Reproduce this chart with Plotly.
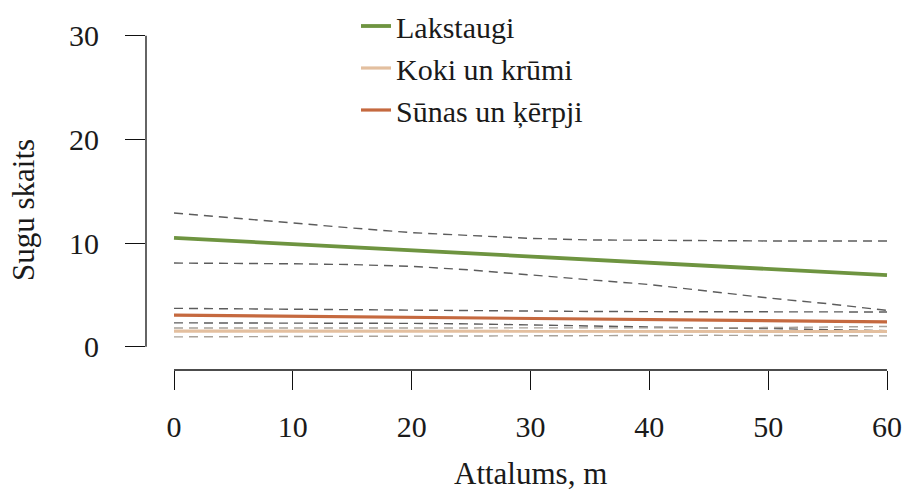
import plotly.graph_objects as go

# ---- data ----
distance = [0, 5, 10, 15, 20, 25, 30, 35, 40, 45, 50, 55, 60]

lak_mean  = [10.5, 10.2, 9.9, 9.6, 9.3, 9.0, 8.7, 8.4, 8.1, 7.8, 7.5, 7.2, 6.9]
lak_upper = [12.9, 12.4, 11.9, 11.45, 11.0, 10.7, 10.45, 10.3, 10.25, 10.2, 10.2, 10.2, 10.2]
lak_lower = [8.07, 8.05, 8.0, 7.92, 7.75, 7.4, 6.9, 6.45, 6.0, 5.35, 4.7, 4.15, 3.5]

koki_mean  = [1.5, 1.5, 1.48, 1.47, 1.46, 1.45, 1.45, 1.45, 1.45, 1.45, 1.46, 1.47, 1.48]
koki_upper = [1.8, 1.8, 1.78, 1.77, 1.77, 1.77, 1.77, 1.78, 1.8, 1.82, 1.85, 1.9, 1.95]
koki_lower = [0.95, 0.97, 1.0, 1.02, 1.04, 1.06, 1.08, 1.09, 1.1, 1.1, 1.08, 1.06, 1.04]

sun_mean  = [3.05, 3.0, 2.95, 2.9, 2.85, 2.8, 2.75, 2.7, 2.62, 2.55, 2.5, 2.45, 2.4]
sun_upper = [3.7, 3.65, 3.6, 3.55, 3.5, 3.45, 3.4, 3.4, 3.38, 3.37, 3.36, 3.35, 3.35]
sun_lower = [2.3, 2.3, 2.3, 2.3, 2.25, 2.2, 2.1, 1.95, 1.85, 1.8, 1.75, 1.65, 1.55]

series_names = ["Lakstaugi", "Koki un krūmi", "Sūnas un ķērpji"]

x_ticks = [0, 10, 20, 30, 40, 50, 60]
y_ticks = [0, 10, 20, 30]

x_title = "Attalums, m"
y_title = "Sugu skaits"

# ---- styles ----
FONT = "Liberation Serif"
TXT = "#1a1a1a"
c_lak, c_koki, c_sun = "#6e9440", "#e3bf9f", "#c5693f"
dash_dark, dash_light = "#5c5c5c", "#a8a29a"
DASH = "9px,6px"

fig = go.Figure()

def band(y, col):
    fig.add_trace(go.Scatter(x=distance, y=y, mode="lines",
                             line=dict(color=col, width=1.4, dash=DASH),
                             showlegend=False, hoverinfo="skip"))

band(lak_upper, dash_dark); band(lak_lower, dash_dark)
band(sun_upper, dash_dark); band(sun_lower, dash_dark)
band(koki_upper, dash_light); band(koki_lower, dash_light)

fig.add_trace(go.Scatter(x=distance, y=koki_mean, mode="lines", name=series_names[1],
                         line=dict(color=c_koki, width=3.2), legendrank=2))
fig.add_trace(go.Scatter(x=distance, y=sun_mean, mode="lines", name=series_names[2],
                         line=dict(color=c_sun, width=3.2), legendrank=3))
fig.add_trace(go.Scatter(x=distance, y=lak_mean, mode="lines", name=series_names[0],
                         line=dict(color=c_lak, width=3.8), legendrank=1))

W, H = 905, 493
L, R, T, B = 146, 12, 0, 123
PW, PH = W - L - R, H - B - T

fig.update_layout(
    width=W, height=H,
    margin=dict(l=L, r=R, t=T, b=B, pad=0, autoexpand=False),
    paper_bgcolor="white", plot_bgcolor="white",
    font=dict(family=FONT, size=30, color=TXT),
    showlegend=True,
    legend=dict(x=(356 - L) / PW, y=1.0,
                xanchor="left", yanchor="top", bgcolor="rgba(0,0,0,0)",
                font=dict(family=FONT, size=30, color=TXT),
                traceorder="normal", tracegroupgap=0),
    xaxis=dict(range=[-2.356, 60.505], tickvals=x_ticks, ticktext=[str(v) for v in x_ticks],
               showgrid=False, zeroline=False, showline=False, automargin=False,
               ticks="outside", ticklen=19, tickwidth=1.3, tickcolor="#111",
               ticklabelstandoff=11, tickfont=dict(family=FONT, size=30, color=TXT)),
    yaxis=dict(range=[-2.247, 33.443], tickvals=y_ticks, ticktext=[str(v) for v in y_ticks],
               showgrid=False, zeroline=False, showline=False, automargin=False,
               ticks="outside", ticklen=20, tickwidth=1.3, tickcolor="#111",
               ticklabelstandoff=20, tickfont=dict(family=FONT, size=30, color=TXT)),
)

# R-style axis lines spanning first to last tick
fig.add_shape(type="line", xref="x", yref="paper", x0=x_ticks[0], x1=x_ticks[-1], y0=0, y1=0,
              line=dict(color="#111", width=1.3))
fig.add_shape(type="line", xref="paper", yref="y", x0=0, x1=0, y0=y_ticks[0], y1=y_ticks[-1],
              line=dict(color="#111", width=1.3))

# axis titles
fig.add_annotation(text=x_title, xref="x", yref="paper", x=30, y=(H - B - 492) / PH,
                   xanchor="center", yanchor="bottom", showarrow=False, borderpad=0,
                   font=dict(family=FONT, size=31, color=TXT))
fig.add_annotation(text=y_title, xref="paper", yref="paper", x=(23 - L) / PW,
                   y=(H - B - 210) / PH, textangle=-90,
                   xanchor="center", yanchor="middle", showarrow=False,
                   font=dict(family=FONT, size=31, color=TXT))

fig.write_html("out.html", config={"displayModeBar": False},
               post_script="document.body.style.margin='0';document.body.style.padding='0';")
